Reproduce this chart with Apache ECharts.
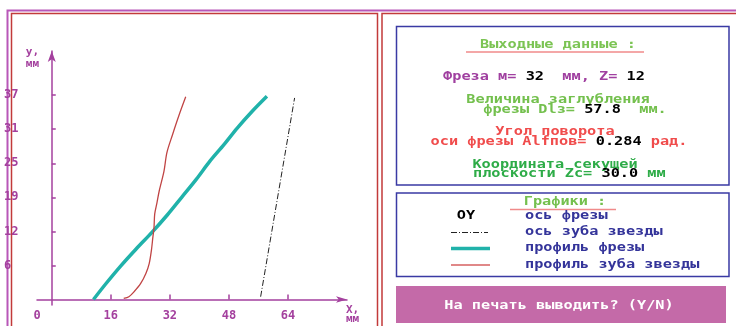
<!DOCTYPE html>
<html>
<head>
<meta charset="utf-8">
<script src="https://cdn.jsdelivr.net/npm/echarts@6.0.0/dist/echarts.min.js"></script>
<style>
  html, body { margin: 0; padding: 0; background: #fff; }
  #main { width: 736px; height: 326px; }
</style>
</head>
<body>
<div id="main"></div>
<script>
// профиль фрезы (x, y), мм
const cutterX = [11.3, 14.6, 18.6, 22.8, 27.2, 31.3, 35.2, 39.2, 42.8, 46.6, 50.2, 54.2, 58.3]
const cutterY = [0, 2.8, 6, 9.1, 12.2, 15.3, 18.5, 21.8, 25, 28, 31, 34, 36.8]
// профиль зуба звезды
const toothX = [19.5, 20.9, 22.3, 24.1, 25.5, 26.4, 27, 27.4, 27.7, 27.9, 28.5, 29.1, 30.4, 31.2, 32.7, 34.5, 36.3]
const toothY = [0.2, 0.5, 1.4, 2.9, 4.7, 6.5, 8.9, 11.3, 13, 15.5, 17.5, 19.6, 23.2, 26.6, 29.8, 33.4, 36.7]
// ось зуба звезды
const axisX = [56.6, 65.8]
const axisY = [0.5, 36.5]
// деления осей
const xTicks = [16, 32, 48, 64]
const xLabels = [-4, 16, 32, 48, 64]
const yTicks = [6.17, 12.33, 18.5, 24.67, 30.83, 37]

const zip = (xs, ys) => xs.map((x, i) => [x, ys[i]])

const purple = '#a4409e'
const mono = 'DejaVu Sans Mono'
const SX = 1.27 // растяжка пиксельного шрифта

// текст панели справа
const txt = (x, y, text, color, align, extra) => Object.assign({
  type: 'text', x: x, y: y, scaleX: SX, scaleY: 1, silent: true,
  style: {
    text: text, fill: color, align: align || 'center', verticalAlign: 'middle',
    font: 'bold 12px "' + mono + '"'
  }
}, extra || {})

const rich = {
  p: {fill: '#a040a0', font: 'bold 12px "' + mono + '"'},
  k: {fill: '#000000', font: 'bold 12px "' + mono + '"'},
  g: {fill: '#74c04e', font: 'bold 12px "' + mono + '"'},
  r: {fill: '#f04c4c', font: 'bold 12px "' + mono + '"'},
  d: {fill: '#2eac48', font: 'bold 12px "' + mono + '"'}
}
const richTxt = (x, y, text, align) => {
  let el = txt(x, y, text, '#000', align)
  el.style.rich = rich
  return el
}

const hline = (x1, x2, y, color, width, dash) => ({
  type: 'line', silent: true,
  shape: {x1: x1, y1: y, x2: x2, y2: y},
  style: {stroke: color, lineWidth: width, lineDash: dash || null}
})

const frame = (x, y, w, h, color, width) => ({
  type: 'rect', silent: true,
  shape: {x: x, y: y, width: w, height: h},
  style: {fill: null, stroke: color, lineWidth: width}
})

let graphics = [
  // рамки
  {type: 'polyline', silent: true, shape: {points: [[7.5, 330], [7.5, 10.5], [740, 10.5]]},
    style: {stroke: '#b857b8', lineWidth: 2, fill: null}},
  frame(11.5, 13.5, 366, 330, '#c23a3a', 1.5),
  frame(382, 13.5, 370, 330, '#c23a3a', 1.5),
  frame(396.5, 26.5, 332.5, 158.5, '#3a3aa4', 1.5),
  frame(396.5, 193, 332.5, 83.5, '#3a3aa4', 1.5),
  {type: 'rect', silent: true, shape: {x: 396, y: 286, width: 330, height: 37},
    style: {fill: '#c46aa8'}},

  // выходные данные
  txt(558, 44.5, 'Выходные данные :', '#7cc454'),
  hline(466, 644, 52, '#f08a8a', 1.5),
  richTxt(544, 77, '{p|Фреза м=} {k|32}  {p|мм, Z=} {k|12}'),
  txt(558, 100, 'Величина заглубления', '#74c04e'),
  richTxt(575, 109.5, '{g|фрезы Dlз=} {k|57.8}  {g|мм.}'),
  txt(555, 131.5, 'Угол поворота', '#f04c4c'),
  richTxt(559, 142, '{r|оси фрезы Alfпов=} {k|0.284} {r|рад.}'),
  txt(555, 164.5, 'Координата секущей', '#2eac48'),
  richTxt(473, 174, '{d|плоскости Zc=} {k|30.0} {d|мм}', 'left'),

  // графики
  txt(565, 202, 'Графики :', '#74c04e'),
  hline(510, 616, 209.5, '#f08a8a', 1.5),
  txt(466, 216, 'OY', '#000000'),
  txt(525, 216, 'ось фрезы', '#34349a', 'left'),
  hline(451, 488, 232.5, '#222222', 1, [6, 2, 1, 2]),
  txt(525, 232, 'ось зуба звезды', '#34349a', 'left'),
  hline(451, 490, 248.5, '#20b2aa', 3.5),
  txt(525, 248, 'профиль фрезы', '#34349a', 'left'),
  hline(451, 490, 265, '#e08888', 2),
  txt(525, 264.5, 'профиль зуба звезды', '#34349a', 'left'),

  // кнопка
  txt(559, 305.5, 'На печать выводить? (Y/N)', '#ffffff')
]

let chart = echarts.init(document.getElementById('main'))
chart.setOption({
  animation: false,
  backgroundColor: '#ffffff',
  grid: {left: 37, right: 389, top: 51, bottom: 21, containLabel: false},
  xAxis: {
    type: 'value', min: -4, max: 80,
    name: 'X,\nмм', nameLocation: 'end', nameGap: -1,
    nameTextStyle: {color: purple, fontFamily: mono, fontWeight: 'bold', fontSize: 11,
      align: 'left', verticalAlign: 'top', lineHeight: 9, padding: [6, 0, 0, 0]},
    axisLine: {onZero: true, lineStyle: {color: purple, width: 1.5},
      symbol: ['none', 'arrow'], symbolSize: [5, 11]},
    axisTick: {show: true, inside: true, length: 5, customValues: xTicks,
      lineStyle: {color: purple, width: 1.5}},
    axisLabel: {customValues: xLabels, margin: 5, color: purple, fontFamily: mono,
      fontWeight: 'bold', fontSize: 12,
      formatter: v => v < 0 ? '0' : String(v)},
    splitLine: {show: false}
  },
  yAxis: {
    type: 'value', min: -1, max: 45,
    name: 'у,\nмм', nameLocation: 'end', nameGap: 5,
    nameTextStyle: {color: purple, fontFamily: mono, fontWeight: 'bold', fontSize: 11,
      align: 'left', verticalAlign: 'top', lineHeight: 12, padding: [0, 0, 0, -26]},
    axisLine: {onZero: true, lineStyle: {color: purple, width: 1.5},
      symbol: ['none', 'arrow'], symbolSize: [6, 11]},
    axisTick: {show: true, inside: true, length: 4, customValues: yTicks,
      lineStyle: {color: purple, width: 1.5}},
    axisLabel: {customValues: yTicks, margin: 33, align: 'left', color: purple,
      fontFamily: mono, fontWeight: 'bold', fontSize: 12,
      formatter: v => String(Math.round(v))},
    splitLine: {show: false}
  },
  series: [
    {
      name: 'профиль фрезы', type: 'line', data: zip(cutterX, cutterY),
      showSymbol: false, smooth: 0.3, lineStyle: {color: '#20b2aa', width: 3.5}
    },
    {
      name: 'профиль зуба звезды', type: 'line', data: zip(toothX, toothY),
      showSymbol: false, smooth: 0.3, lineStyle: {color: '#c04444', width: 1.3}
    },
    {
      name: 'ось зуба звезды', type: 'line', data: zip(axisX, axisY),
      showSymbol: false, lineStyle: {color: '#222222', width: 1, type: [6, 2, 1, 2]}
    }
  ],
  graphic: graphics
})
</script>
</body>
</html>
